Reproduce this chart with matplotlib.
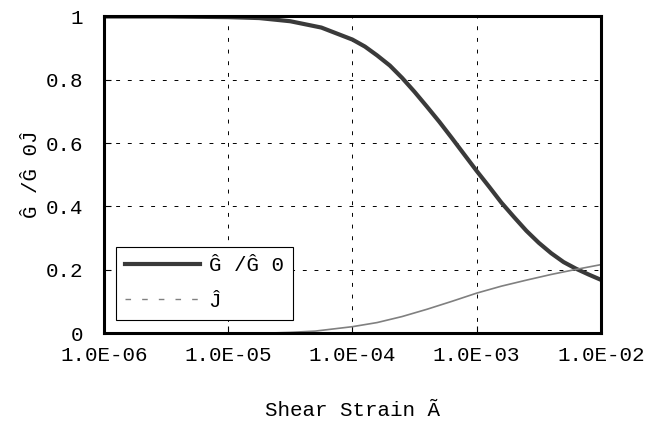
import matplotlib
matplotlib.use("Agg")
import matplotlib.pyplot as plt
from matplotlib.lines import Line2D

# modulus reduction curve
strain = [1.0e-6, 3.16e-6, 1.0e-5, 1.78e-5, 3.16e-5, 5.62e-5, 1.0e-4, 1.26e-4,
          1.58e-4, 2.0e-4, 2.51e-4, 3.16e-4, 3.98e-4, 5.01e-4, 6.31e-4, 7.94e-4,
          1.0e-3, 1.26e-3, 1.58e-3, 2.0e-3, 2.51e-3, 3.16e-3, 3.98e-3, 5.01e-3,
          6.31e-3, 7.94e-3, 1.0e-2]
g_ratio = [1.0, 1.0, 0.998, 0.995, 0.985, 0.965, 0.927, 0.905,
           0.877, 0.845, 0.806, 0.762, 0.715, 0.667, 0.616, 0.564,
           0.512, 0.462, 0.412, 0.366, 0.323, 0.285, 0.252, 0.224,
           0.203, 0.185, 0.168]

# damping curve
h_strain = [2.19e-5, 3.16e-5, 5.01e-5, 1.0e-4, 1.58e-4, 2.51e-4, 3.98e-4, 6.31e-4,
            1.0e-3, 1.58e-3, 2.51e-3, 3.98e-3, 6.31e-3, 1.0e-2]
damping = [0.0, 0.002, 0.006, 0.02, 0.033, 0.052, 0.075, 0.1,
           0.126, 0.148, 0.167, 0.185, 0.201, 0.216]

x_ticks = [1e-6, 1e-5, 1e-4, 1e-3, 1e-2]
x_labels = ["1.0E-06", "1.0E-05", "1.0E-04", "1.0E-03", "1.0E-02"]
y_ticks = [0, 0.2, 0.4, 0.6, 0.8, 1]
y_labels = ["0", "0.2", "0.4", "0.6", "0.8", "1"]

font = "Liberation Mono"

fig = plt.figure(figsize=(6.51, 4.26), dpi=100)
ax = fig.add_axes([0.1597, 0.2183, 0.7634, 0.7430])

ax.plot(strain, g_ratio, color="#3a3a3a", linewidth=3.0, solid_capstyle="butt")
ax.plot(h_strain, damping, color="#808080", linewidth=1.2)

ax.set_xscale("log")
ax.set_xlim(1e-6, 1e-2)
ax.set_ylim(0, 1)
ax.set_xticks(x_ticks)
ax.set_xticklabels(x_labels, family=font, fontsize=15)
ax.minorticks_off()
ax.set_yticks(y_ticks)
ax.set_yticklabels(y_labels, family=font, fontsize=15)
ax.tick_params(direction="in", length=5, width=0.8, color="black")
ax.tick_params(axis="x", pad=9)
ax.tick_params(axis="y", pad=15)

ax.grid(True, color="black", linewidth=0.7, linestyle=(0, (4, 8)))
for s in ax.spines.values():
    s.set_linewidth(2.2)
    s.set_color("black")

ax.set_xlabel("Shear Strain Ã", family=font, fontsize=15, labelpad=26)
ax.set_ylabel("Ĝ /Ĝ 0Ĵ", family=font, fontsize=15, labelpad=3.5)

handles = [Line2D([], [], color="#3a3a3a", linewidth=3.0),
           Line2D([], [], color="#808080", linewidth=1.0, linestyle=(0, (4, 8)))]
leg = ax.legend(handles, ["Ĝ /Ĝ 0", "Ĵ"], loc="lower left",
                bbox_to_anchor=(0.024, 0.041), borderaxespad=0,
                prop={"family": font, "size": 15}, handlelength=3.6,
                handletextpad=0.4, labelspacing=0.8, borderpad=0.45,
                fancybox=False, framealpha=1, edgecolor="black")
leg.get_frame().set_linewidth(0.8)

fig.savefig("out.png", dpi=100)
